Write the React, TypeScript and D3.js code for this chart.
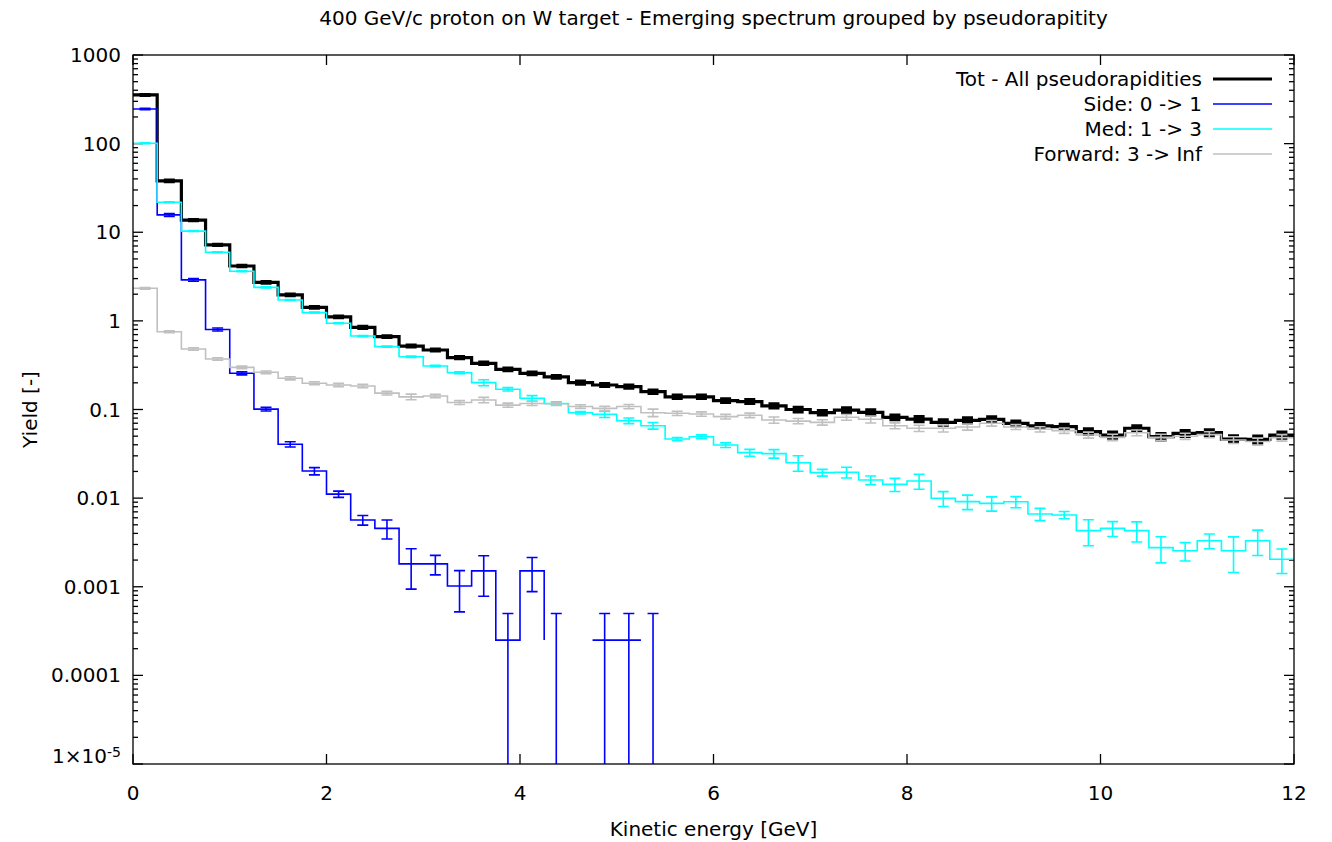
import React from "react";
import * as d3 from "d3";

const BIN_WIDTH = 0.25;

const totVals = [354, 38, 13.7, 7.2, 4.16, 2.72, 1.96, 1.42, 1.11, 0.845, 0.664, 0.52, 0.469, 0.385, 0.332, 0.284, 0.256, 0.234, 0.201, 0.189, 0.181, 0.159, 0.139, 0.139, 0.126, 0.123, 0.11, 0.1, 0.092, 0.0986, 0.093, 0.0817, 0.078, 0.0716, 0.0755, 0.0775, 0.0698, 0.0652, 0.064, 0.0563, 0.0515, 0.0614, 0.0493, 0.0538, 0.055, 0.0464, 0.046, 0.0515];
const totErr = [3, 0.7, 0.2, 0.1, 0.07, 0.05, 0.04, 0.03, 0.025, 0.02, 0.015, 0.013, 0.012, 0.011, 0.01, 0.009, 0.009, 0.008, 0.008, 0.007, 0.007, 0.007, 0.006, 0.006, 0.006, 0.006, 0.006, 0.006, 0.005, 0.006, 0.006, 0.005, 0.005, 0.005, 0.005, 0.005, 0.004, 0.004, 0.004, 0.004, 0.004, 0.004, 0.004, 0.004, 0.004, 0.004, 0.004, 0.004];

const sideVals = [246, 15.7, 2.9, 0.8, 0.256, 0.101, 0.0405, 0.0202, 0.0111, 0.00566, 0.00456, 0.00181, 0.00181, 0.00102, 0.00151, 0.00025, 0.00151, 0.00025, 0, 0.00025, 0.00025, 0.00025, 0, 0, 0, 0, 0, 0, 0, 0, 0, 0, 0, 0, 0, 0, 0, 0, 0, 0, 0, 0, 0, 0, 0, 0, 0, 0];
const sideErr = [5, 0.6, 0.1, 0.03, 0.01, 0.005, 0.0027, 0.0019, 0.0009, 0.0007, 0.0011, 0.00087, 0.00045, 0.0005, 0.00073, 0.00025, 0.00063, 0.00025, 0, 0.00025, 0.00025, 0.00025, 0, 0, 0, 0, 0, 0, 0, 0, 0, 0, 0, 0, 0, 0, 0, 0, 0, 0, 0, 0, 0, 0, 0, 0, 0, 0];

const medVals = [101, 21.8, 10.3, 5.94, 3.63, 2.39, 1.72, 1.24, 0.94, 0.674, 0.512, 0.394, 0.31, 0.26, 0.201, 0.169, 0.134, 0.117, 0.092, 0.0883, 0.0748, 0.0656, 0.0464, 0.0493, 0.0397, 0.0326, 0.0318, 0.0251, 0.0194, 0.0196, 0.016, 0.0143, 0.0156, 0.00995, 0.00912, 0.00873, 0.0091, 0.00662, 0.00646, 0.0043, 0.00456, 0.0043, 0.00276, 0.00255, 0.00331, 0.00255, 0.0033, 0.00204];
const medErr = [1.0, 0.3, 0.12, 0.06, 0.04, 0.03, 0.02, 0.015, 0.012, 0.01, 0.008, 0.007, 0.006, 0.006, 0.016, 0.0075, 0.0094, 0.005, 0.003, 0.007, 0.0055, 0.0056, 0.002, 0.0024, 0.0024, 0.0029, 0.0035, 0.005, 0.0017, 0.0027, 0.0018, 0.0024, 0.003, 0.0019, 0.0017, 0.0016, 0.0013, 0.00105, 0.0006, 0.0014, 0.00087, 0.0011, 0.0009, 0.0006, 0.00063, 0.0011, 0.00105, 0.00063];

const fwdVals = [2.33, 0.755, 0.482, 0.372, 0.299, 0.263, 0.225, 0.198, 0.189, 0.184, 0.153, 0.139, 0.142, 0.12, 0.128, 0.112, 0.117, 0.116, 0.108, 0.103, 0.108, 0.092, 0.0906, 0.089, 0.083, 0.086, 0.0762, 0.074, 0.0716, 0.0817, 0.0775, 0.0656, 0.0614, 0.0614, 0.0635, 0.07, 0.0635, 0.0598, 0.0578, 0.0515, 0.0485, 0.0546, 0.0485, 0.05, 0.052, 0.0453, 0.0435, 0.048];
const fwdErr = [0.05, 0.02, 0.015, 0.012, 0.01, 0.009, 0.009, 0.008, 0.008, 0.008, 0.007, 0.01, 0.006, 0.006, 0.009, 0.006, 0.006, 0.005, 0.005, 0.006, 0.006, 0.009, 0.005, 0.005, 0.005, 0.005, 0.0062, 0.005, 0.005, 0.006, 0.007, 0.005, 0.005, 0.0057, 0.005, 0.005, 0.004, 0.004, 0.004, 0.004, 0.004, 0.004, 0.004, 0.004, 0.004, 0.004, 0.004, 0.004];

const seriesNames = ["Tot - All pseudorapidities", "Side: 0 -> 1", "Med: 1 -> 3", "Forward: 3 -> Inf"];
const seriesColors = ["#000000", "#0000ff", "#00ffff", "#c0c0c0"];
const seriesWidths = [3.2, 1.6, 1.6, 1.6];

const xTicks = [0, 2, 4, 6, 8, 10, 12];
const yTicks = [1000, 100, 10, 1, 0.1, 0.01, 0.001, 0.0001, 1e-5];
const yTickLabels = ["1000", "100", "10", "1", "0.1", "0.01", "0.001", "0.0001", "1×10|-5"];

const TITLE = "400 GeV/c proton on W target - Emerging spectrum grouped by pseudorapitity";
const X_LABEL = "Kinetic energy [GeV]";
const Y_LABEL = "Yield [-]";

const W = 1332, H = 842;
const L = 133, R = 1294, T = 55, B = 764;
const FONT = "'DejaVu Sans', sans-serif";
const FS = 20;

const x = d3.scaleLinear().domain([0, 12]).range([L, R]);
const y = d3.scaleLog().domain([1e-5, 1000]).range([B, T]);

function stepPath(vals: number[]) {
  const n = vals.length;
  const p = d3.path();
  for (let i = 0; i < n; i++) {
    const v = vals[i];
    if (!(v > 0)) continue;
    const x0 = x(i * BIN_WIDTH), x1 = x((i + 1) * BIN_WIDTH);
    const yy = y(v);
    const prevDef = i > 0 && vals[i - 1] > 0;
    const nextDef = i < n - 1 && vals[i + 1] > 0;
    if (prevDef) p.lineTo(x0, yy);
    else p.moveTo(x0, yy);
    if (nextDef || i === n - 1) p.lineTo(x1, yy);
  }
  return p.toString();
}

function errPath(vals: number[], errs: number[]) {
  const p = d3.path();
  const cap = 5.5;
  vals.forEach((v, i) => {
    const e = errs[i];
    if (!(v > 0) || !(e > 0)) return;
    const xc = x((i + 0.5) * BIN_WIDTH);
    const yt = y(v + e);
    const lo = v - e;
    const yb = lo > 1e-12 ? y(lo) : B + 2;
    p.moveTo(xc, yt);
    p.lineTo(xc, yb);
    p.moveTo(xc - cap, yt);
    p.lineTo(xc + cap, yt);
    if (lo > 1e-12) {
      p.moveTo(xc - cap, yb);
      p.lineTo(xc + cap, yb);
    }
  });
  return p.toString();
}

const allVals = [totVals, sideVals, medVals, fwdVals];
const allErrs = [totErr, sideErr, medErr, fwdErr];

export default function App() {
  const minorTicks: number[] = [];
  for (let e = -5; e < 3; e++) {
    for (let k = 2; k <= 9; k++) minorTicks.push(k * Math.pow(10, e));
  }
  return (
    <svg width={W} height={H} style={{ position: "absolute", left: 0, top: 0, background: "#fff" }} fontFamily={FONT}>
      <rect x={0} y={0} width={W} height={H} fill="#fff" />
      <defs>
        <clipPath id="plotclip">
          <rect x={L} y={T} width={R - L} height={B - T} />
        </clipPath>
      </defs>
      <text x={(L + R) / 2} y={24.5} textAnchor="middle" fontSize={FS}>{TITLE}</text>
      <g stroke="#000" strokeWidth={1.3}>
        {xTicks.map((t) => (
          <g key={"xt" + t}>
            <line x1={x(t)} x2={x(t)} y1={B} y2={B - 10} />
            <line x1={x(t)} x2={x(t)} y1={T} y2={T + 10} />
          </g>
        ))}
        {yTicks.map((t) => (
          <g key={"yt" + t}>
            <line x1={L} x2={L + 10} y1={y(t)} y2={y(t)} />
            <line x1={R} x2={R - 10} y1={y(t)} y2={y(t)} />
          </g>
        ))}
        {minorTicks.map((t, i) => (
          <g key={"ym" + i}>
            <line x1={L} x2={L + 5} y1={y(t)} y2={y(t)} />
            <line x1={R} x2={R - 5} y1={y(t)} y2={y(t)} />
          </g>
        ))}
      </g>
      <g fontSize={FS} fill="#000">
        {xTicks.map((t) => (
          <text key={"xl" + t} x={x(t)} y={800} textAnchor="middle">{String(t)}</text>
        ))}
        {yTicks.map((t, i) => {
          const lab = yTickLabels[i];
          if (lab.includes("|")) {
            const [base, sup] = lab.split("|");
            return (
              <text key={"yl" + i} x={121} y={y(t) - 1.5} textAnchor="end">
                {base}
                <tspan fontSize={FS * 0.7} dy={-6}>{sup}</tspan>
              </text>
            );
          }
          return (
            <text key={"yl" + i} x={121} y={y(t) + 7} textAnchor="end">{lab}</text>
          );
        })}
      </g>
      <text x={(L + R) / 2} y={836} textAnchor="middle" fontSize={FS}>{X_LABEL}</text>
      <text transform={`translate(37,${(T + B) / 2}) rotate(-90)`} textAnchor="middle" fontSize={FS}>{Y_LABEL}</text>
      <g clipPath="url(#plotclip)" fill="none" strokeLinejoin="miter">
        {allVals.map((vals, s) => (
          <g key={"s" + s} stroke={seriesColors[s]} strokeWidth={seriesWidths[s]}>
            <path d={stepPath(vals)} />
            <path d={errPath(vals, allErrs[s])} />
          </g>
        ))}
      </g>
      <g fontSize={FS}>
        {seriesNames.map((nm, s) => {
          const ly = 79 + s * 25;
          return (
            <g key={"lg" + s}>
              <text x={1202} y={ly + 7} textAnchor="end">{nm}</text>
              <line x1={1213} x2={1272} y1={ly} y2={ly} stroke={seriesColors[s]} strokeWidth={seriesWidths[s]} />
            </g>
          );
        })}
      </g>
      <rect x={L} y={T} width={R - L} height={B - T} fill="none" stroke="#000" strokeWidth={1.3} />
    </svg>
  );
}
